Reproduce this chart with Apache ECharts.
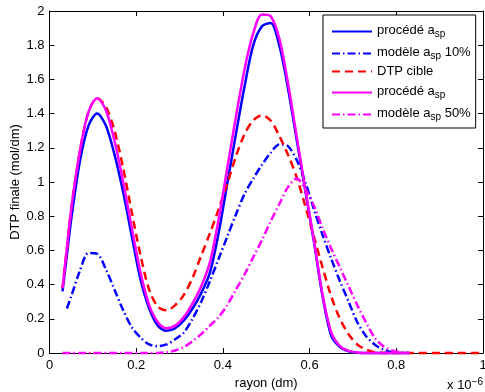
<!DOCTYPE html>
<html>
<head>
<meta charset="utf-8">
<script src="https://cdn.jsdelivr.net/npm/echarts@6/dist/echarts.min.js"></script>
<style>
  html, body { margin: 0; padding: 0; background: #fff; }
  #chart { width: 485px; height: 392px; }
</style>
</head>
<body>
<div id="chart"></div>
<script>
  // rayon (x 1e-6 dm)
  var rayon = [0.03, 0.04, 0.05, 0.07, 0.09, 0.11, 0.13, 0.15, 0.17, 0.19, 0.21, 0.23, 0.25, 0.27, 0.29,
    0.31, 0.33, 0.35, 0.37, 0.39, 0.41, 0.43, 0.45, 0.47, 0.49, 0.51, 0.53, 0.55, 0.57, 0.59,
    0.61, 0.63, 0.65, 0.67, 0.69, 0.71, 0.73, 0.75, 0.77, 0.79, 0.81, 0.83, 0.9, 1.0]

  var procede10 = [0.36, 0.57, 0.78, 1.12, 1.33, 1.40, 1.33, 1.16, 0.94, 0.68, 0.43, 0.26, 0.16, 0.13, 0.145,
    0.19, 0.26, 0.35, 0.47, 0.70, 0.99, 1.28, 1.56, 1.80, 1.91, 1.93, 1.80, 1.55, 1.25, 0.95,
    0.65, 0.33, 0.10, 0.035, 0.01, 0.002, 0, 0, 0, 0, 0, 0, null, null]

  var modele10 = [null, 0.26, 0.33, 0.48, 0.585, 0.58, 0.49, 0.37, 0.25, 0.15, 0.09, 0.05, 0.04, 0.05, 0.08,
    0.12, 0.20, 0.30, 0.42, 0.55, 0.68, 0.81, 0.93, 1.02, 1.10, 1.17, 1.22, 1.21, 1.13, 1.00,
    0.84, 0.69, 0.55, 0.42, 0.30, 0.18, 0.10, 0.05, 0.02, 0.005, 0, null, null, null]

  var cible = [0.38, 0.61, 0.84, 1.18, 1.41, 1.49, 1.44, 1.30, 1.08, 0.82, 0.57, 0.37, 0.27, 0.25, 0.28,
    0.34, 0.44, 0.57, 0.70, 0.84, 0.99, 1.15, 1.28, 1.36, 1.39, 1.36, 1.27, 1.16, 1.03, 0.86,
    0.68, 0.50, 0.33, 0.20, 0.11, 0.05, 0.02, 0.005, 0, 0, 0, 0, 0, 0]

  var procede50 = [0.38, 0.61, 0.84, 1.18, 1.41, 1.49, 1.42, 1.24, 1.00, 0.73, 0.47, 0.28, 0.18, 0.145, 0.16,
    0.21, 0.29, 0.39, 0.53, 0.78, 1.08, 1.38, 1.66, 1.87, 1.98, 1.97, 1.84, 1.58, 1.27, 0.96,
    0.66, 0.34, 0.12, 0.04, 0.012, 0.003, 0, 0, 0, 0, 0, 0, null, null]

  var modele50 = [0, 0, 0, 0, 0, 0, 0, 0, 0, 0, 0, 0, 0, 0.005, 0.015,
    0.035, 0.07, 0.11, 0.16, 0.21, 0.28, 0.37, 0.46, 0.56, 0.66, 0.77, 0.87, 0.97, 1.02, 0.96,
    0.86, 0.73, 0.61, 0.50, 0.39, 0.28, 0.18, 0.09, 0.04, 0.015, 0.005, 0, null, null]

  var legendText = {
    procede10: '{t|procédé a}{s|sp}',
    modele10: '{t|modèle a}{s|sp}{t| 10%}',
    cible: '{n|DTP cible}',
    procede50: '{t|procédé a}{s|sp}',
    modele50: '{t|modèle a}{s|sp}{t| 50%}'
  }

  var font = 'Liberation Sans, Arial, Helvetica, sans-serif'

  function pairs (ys) {
    return rayon.map(function (x, i) { return [x, ys[i]] })
      .filter(function (p) { return p[1] !== null })
  }

  function line (name, ys, color, type) {
    return {
      name: name,
      type: 'line',
      data: pairs(ys),
      smooth: 0.3,
      symbol: 'none',
      clip: false,
      lineStyle: { color: color, width: 2.5, type: type },
      itemStyle: { color: color }
    }
  }

  var axisCommon = {
    type: 'value',
    axisLine: { show: true, onZero: false, lineStyle: { color: '#000', width: 1 } },
    axisTick: { show: true, inside: true, length: 5, lineStyle: { color: '#000' } },
    splitLine: { show: false }
  }

  var chart = echarts.init(document.getElementById('chart'))
  var option = {
    animation: false,
    textStyle: { fontFamily: font },
    grid: { left: 49.5, right: 2, top: 11, bottom: 39, containLabel: false, outerBoundsMode: 'none' },
    xAxis: [
      Object.assign({}, axisCommon, {
        min: 0, max: 1, interval: 0.2, position: 'bottom',
        axisLabel: { color: '#000', fontSize: 13, margin: 6, fontFamily: font },
        name: 'rayon (dm)', nameLocation: 'middle', nameGap: 23,
        nameTextStyle: { color: '#000', fontSize: 13, fontFamily: font }
      }),
      Object.assign({}, axisCommon, {
        min: 0, max: 1, interval: 0.2, position: 'top',
        axisLabel: { show: false }
      })
    ],
    yAxis: [
      Object.assign({}, axisCommon, {
        min: 0, max: 2, interval: 0.2, position: 'left',
        axisLabel: { color: '#000', fontSize: 13, margin: 5, fontFamily: font },
        name: 'DTP finale (mol/dm)', nameLocation: 'middle', nameGap: 28, nameMoveOverlap: false,
        nameTextStyle: { color: '#000', fontSize: 13, fontFamily: font }
      }),
      Object.assign({}, axisCommon, {
        min: 0, max: 2, interval: 0.2, position: 'right',
        axisLabel: { show: false }
      })
    ],
    legend: {
      orient: 'vertical',
      left: 323,
      top: 15,
      padding: [6, 5, 6, 8],
      itemWidth: 40,
      itemHeight: 14,
      itemGap: 4,
      backgroundColor: '#fff',
      borderColor: '#000',
      borderWidth: 1,
      itemStyle: { opacity: 0 },
      data: ['procede10', 'modele10', 'cible', 'procede50', 'modele50'],
      formatter: function (name) { return legendText[name] },
      textStyle: {
        color: '#000',
        rich: {
          t: { fontSize: 13, fontFamily: font, lineHeight: 15, verticalAlign: 'top', color: '#000' },
          n: { fontSize: 13, fontFamily: font, lineHeight: 15, color: '#000' },
          s: { fontSize: 10, fontFamily: font, lineHeight: 10, verticalAlign: 'bottom', padding: [8, 0, 0, 0], color: '#000' }
        }
      }
    },
    graphic: [
      {
        type: 'text',
        right: 2,
        bottom: 0,
        style: {
          text: '{a|x 10}{b|−6}',
          rich: {
            a: { fontSize: 13, fontFamily: font, lineHeight: 15, verticalAlign: 'bottom', padding: [6, 0, 0, 0], fill: '#000' },
            b: { fontSize: 10, fontFamily: font, lineHeight: 10, verticalAlign: 'top', fill: '#000' }
          }
        }
      }
    ],
    series: [
      line('procede10', procede10, '#0000ff', 'solid'),
      line('modele10', modele10, '#0000ff', [8, 3, 1.5, 3]),
      line('cible', cible, '#ff0000', [8, 5]),
      line('procede50', procede50, '#ff00ff', 'solid'),
      line('modele50', modele50, '#ff00ff', [8, 3, 1.5, 3])
    ]
  }
  chart.setOption(option)
</script>
</body>
</html>
